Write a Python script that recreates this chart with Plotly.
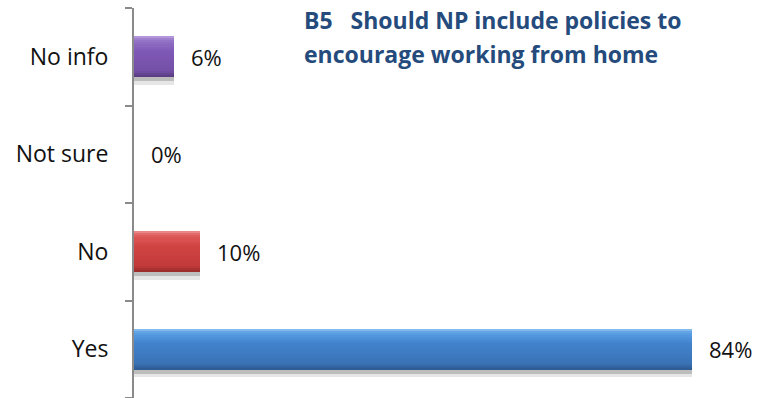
import plotly.graph_objects as go

# Survey responses (bottom to top on the chart)
categories = ["Yes", "No", "Not sure", "No info"]
values = [84, 10, 0, 6]
value_labels = ["84%", "10%", "0%", "6%"]
title_lines = ["B5\u00a0\u00a0 Should NP include policies to",
               "encourage working from home"]

# Vertical shading stops per category: (fraction from top, colour)
shading = {
    "Yes":      [(0.0, "#9CCBF5"), (0.05, "#6AA8E6"), (0.14, "#559AE0"),
                 (0.35, "#4283CD"), (0.85, "#3A73B6"), (0.93, "#31629E"), (1.0, "#2C5990")],
    "No":       [(0.0, "#F09A9A"), (0.05, "#E57272"), (0.14, "#DC5858"),
                 (0.35, "#D14343"), (0.85, "#C13A3A"), (0.93, "#A83030"), (1.0, "#972A2A")],
    "Not sure": [(0.0, "#CCCCCC"), (1.0, "#999999")],
    "No info":  [(0.0, "#C2A8E2"), (0.05, "#A486D2"), (0.14, "#9170C5"),
                 (0.35, "#7F58B6"), (0.85, "#7350A6"), (0.93, "#62448F"), (1.0, "#573B80")],
}

HALF = 0.21   # half bar thickness in category units
BANDS = 20    # number of shading strips per bar
FONT = "Open Sans"


def mix(stops, f):
    for (f0, c0), (f1, c1) in zip(stops, stops[1:]):
        if f0 <= f <= f1:
            t = 0 if f1 == f0 else (f - f0) / (f1 - f0)
            a = [int(c0[i:i + 2], 16) for i in (1, 3, 5)]
            b = [int(c1[i:i + 2], 16) for i in (1, 3, 5)]
            return "#" + "".join(f"{round(x + (y - x) * t):02X}" for x, y in zip(a, b))
    return stops[-1][1]


fig = go.Figure()

# soft drop shadow under each bar
for off, col in [(-HALF - 0.075, "#E6E6E6"), (-HALF - 0.04, "#BDBDBD")]:
    fig.add_trace(go.Bar(
        x=values, y=categories, orientation="h",
        offset=off, width=2 * HALF, marker=dict(color=col, line_width=0),
        hoverinfo="skip", showlegend=False))

# shaded bar body, drawn as thin strips from bottom to top
band_w = 2 * HALF / BANDS
for k in range(BANDS):
    f = 1 - (k + 0.5) / BANDS          # fraction from the top edge
    fig.add_trace(go.Bar(
        x=values, y=categories, orientation="h",
        offset=-HALF + k * band_w, width=band_w * 1.05,
        marker=dict(color=[mix(shading[c], f) for c in categories], line_width=0),
        hoverinfo="skip", showlegend=False))

# value labels at the bar ends
for c, v, t in zip(categories, values, value_labels):
    fig.add_annotation(x=v, y=c, text=t, xanchor="left", yanchor="middle",
                       xshift=15, showarrow=False,
                       font=dict(family=FONT, size=22, color="#111111"))

# two-line chart title
for txt, yy in zip(title_lines, [0.968, 0.881]):
    fig.add_annotation(xref="paper", yref="paper", x=0.281, y=yy, text=txt,
                       xanchor="left", yanchor="middle", showarrow=False,
                       font=dict(family=FONT, size=23, color="#254B7D", weight="bold"))

fig.update_layout(
    width=763, height=398,
    margin=dict(l=134, r=31, t=8, b=0),
    paper_bgcolor="white", plot_bgcolor="white",
    barmode="overlay", bargap=0,
    xaxis=dict(range=[0, 90], visible=False),
    yaxis=dict(type="category", categoryorder="array", categoryarray=categories,
               range=[-0.5, 3.5], showline=True, linecolor="#8A8A8A", linewidth=2,
               ticks="outside", tickson="boundaries", ticklen=7, tickwidth=2,
               tickcolor="#8A8A8A", showgrid=False, zeroline=False,
               ticklabelstandoff=19,
               tickfont=dict(family=FONT, size=23, color="#111111")),
)

fig.write_html("out.html")
